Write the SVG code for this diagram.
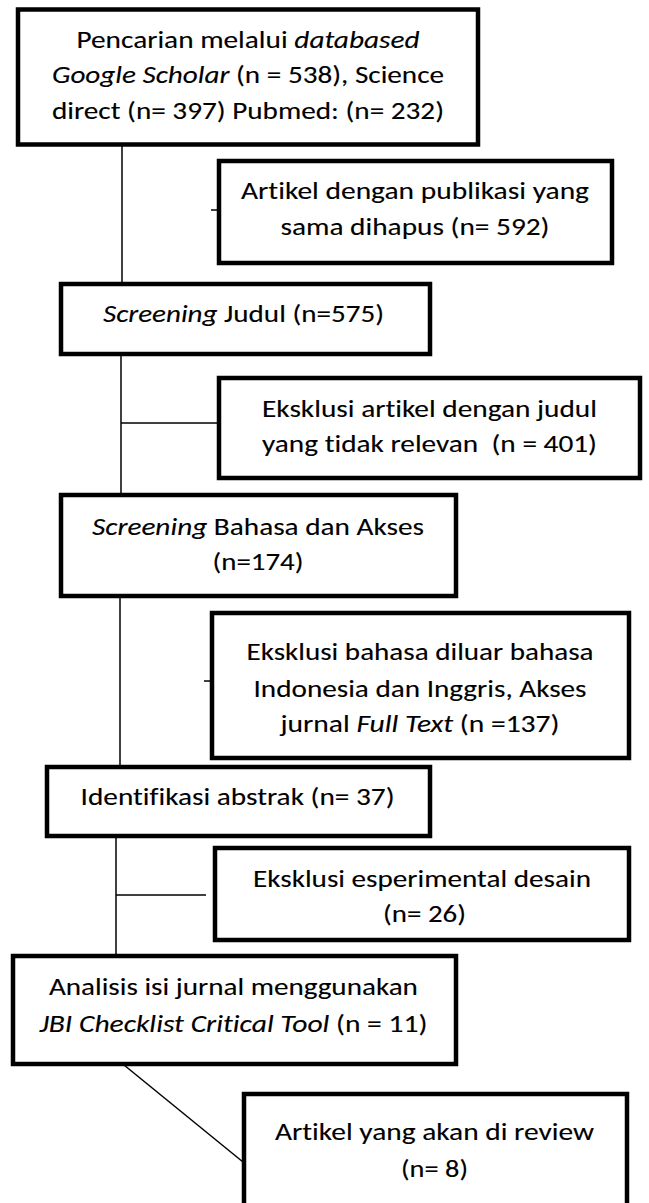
<svg xmlns="http://www.w3.org/2000/svg" width="649" height="1203" viewBox="0 0 649 1203">
<style>
.box{fill:#fff;stroke:#000;stroke-width:4.5}
.ln{fill:none;stroke:#000;stroke-width:1.5}
text{font-family:"Carlito","Liberation Sans",Arial,sans-serif;font-size:25.5px;fill:#000;stroke:#000;stroke-width:0.12;text-anchor:middle;font-variant-ligatures:none;font-feature-settings:"liga" 0,"clig" 0}
.i{font-style:italic}
</style>
<rect width="649" height="1203" fill="#fff"/>
<g id="connectors">
<line class="ln" x1="122" y1="146" x2="122" y2="283"/>
<line class="ln" x1="211" y1="210" x2="217" y2="210"/>
<line class="ln" x1="121" y1="355" x2="121" y2="494"/>
<line class="ln" x1="121" y1="423" x2="218" y2="423"/>
<line class="ln" x1="120" y1="597" x2="120" y2="766"/>
<line class="ln" x1="204" y1="681" x2="211" y2="681"/>
<line class="ln" x1="116" y1="837" x2="116" y2="955"/>
<line class="ln" x1="116" y1="895" x2="206" y2="895"/>
<line class="ln" x1="124" y1="1065" x2="243" y2="1162"/>
</g>
<g id="n1">
<rect class="box" x="18" y="9.5" width="460" height="135"/>
<text x="248" y="48" textLength="343" lengthAdjust="spacingAndGlyphs">Pencarian melalui <tspan class="i">databased</tspan></text>
<text x="248" y="83" textLength="392" lengthAdjust="spacingAndGlyphs"><tspan class="i">Google Scholar</tspan> (n = 538), Science</text>
<text x="248" y="119" textLength="392" lengthAdjust="spacingAndGlyphs">direct (n= 397) Pubmed: (n= 232)</text>
</g>
<g id="n2">
<rect class="box" x="219" y="161" width="393" height="102"/>
<text x="415" y="199" textLength="348" lengthAdjust="spacingAndGlyphs">Artikel dengan publikasi yang</text>
<text x="415" y="235" textLength="269" lengthAdjust="spacingAndGlyphs">sama dihapus (n= 592)</text>
</g>
<g id="n3">
<rect class="box" x="61" y="284" width="369" height="70"/>
<text x="243.5" y="322" textLength="281" lengthAdjust="spacingAndGlyphs"><tspan class="i">Screening</tspan> Judul (n=575)</text>
</g>
<g id="n4">
<rect class="box" x="219" y="378" width="421" height="100"/>
<text x="429.5" y="417" textLength="335" lengthAdjust="spacingAndGlyphs">Eksklusi artikel dengan judul</text>
<text x="429.5" y="452" textLength="335" lengthAdjust="spacingAndGlyphs" xml:space="preserve">yang tidak relevan  (n = 401)</text>
</g>
<g id="n5">
<rect class="box" x="61" y="495" width="395" height="101"/>
<text x="258" y="535" textLength="332" lengthAdjust="spacingAndGlyphs"><tspan class="i">Screening</tspan> Bahasa dan Akses</text>
<text x="258" y="570" textLength="91" lengthAdjust="spacingAndGlyphs">(n=174)</text>
</g>
<g id="n6">
<rect class="box" x="212" y="613" width="417" height="145"/>
<text x="420" y="660" textLength="347" lengthAdjust="spacingAndGlyphs">Eksklusi bahasa diluar bahasa</text>
<text x="420" y="697" textLength="333" lengthAdjust="spacingAndGlyphs">Indonesia dan Inggris, Akses</text>
<text x="420" y="732" textLength="279" lengthAdjust="spacingAndGlyphs">jurnal <tspan class="i">Full Text</tspan> (n =137)</text>
</g>
<g id="n7">
<rect class="box" x="47" y="767" width="383" height="69"/>
<text x="237.6" y="805" textLength="314" lengthAdjust="spacingAndGlyphs">Identifikasi abstrak (n= 37)</text>
</g>
<g id="n8">
<rect class="box" x="215" y="848" width="414" height="92"/>
<text x="422" y="887" textLength="338" lengthAdjust="spacingAndGlyphs">Eksklusi esperimental desain</text>
<text x="424.5" y="922" textLength="83" lengthAdjust="spacingAndGlyphs">(n= 26)</text>
</g>
<g id="n9">
<rect class="box" x="13" y="956" width="443" height="108"/>
<text x="233.4" y="995" textLength="369" lengthAdjust="spacingAndGlyphs">Analisis isi jurnal menggunakan</text>
<text x="233.4" y="1032" textLength="388" lengthAdjust="spacingAndGlyphs"><tspan class="i">JBI Checklist Critical Tool</tspan> (n = 11)</text>
</g>
<g id="n10">
<rect class="box" x="244" y="1094" width="383" height="120"/>
<text x="434.5" y="1140" textLength="319" lengthAdjust="spacingAndGlyphs">Artikel yang akan di review</text>
<text x="434.5" y="1177" textLength="67" lengthAdjust="spacingAndGlyphs">(n= 8)</text>
</g>
</svg>
